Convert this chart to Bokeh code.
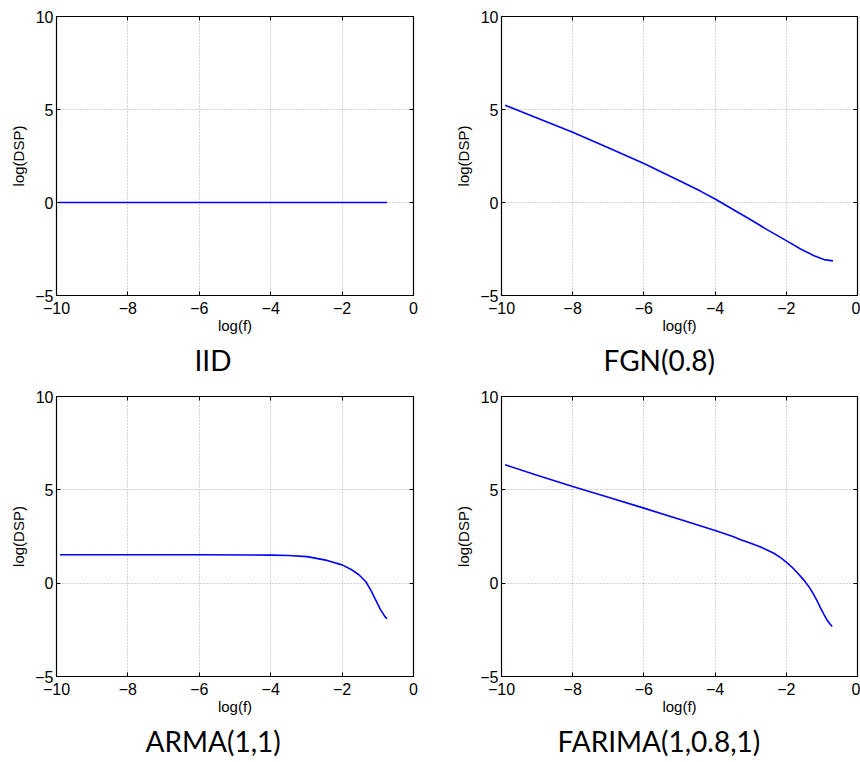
from bokeh.plotting import figure
from bokeh.layouts import column, row
from bokeh.models import Range1d, FixedTicker, CustomJSTickFormatter, LinearAxis, Title
from bokeh.embed import file_html
from bokeh.resources import INLINE

# ---- data ----
x_ticks = [-10, -8, -6, -4, -2, 0]
y_ticks = [-5, 0, 5, 10]

iid_x = [-9.93, -8, -6, -4, -2, -0.74]
iid_y = [0, 0, 0, 0, 0, 0]

fgn_x = [-9.9, -9, -8, -7, -6, -5, -4.4, -4, -3.47, -3, -2.53, -2, -1.6, -1.22, -0.94, -0.69]
fgn_y = [5.23, 4.54, 3.78, 2.94, 2.10, 1.17, 0.60, 0.19, -0.40, -0.93, -1.47, -2.05, -2.50, -2.86, -3.07, -3.14]

arma_x = [-9.9, -8, -6, -4.57, -4, -3.5, -2.98, -2.42, -2.0, -1.76, -1.53, -1.34, -1.2, -1.06, -0.92, -0.8, -0.74]
arma_y = [1.52, 1.52, 1.52, 1.51, 1.50, 1.48, 1.42, 1.22, 0.98, 0.75, 0.45, 0.09, -0.36, -0.90, -1.43, -1.79, -1.91]

farima_x = [-9.9, -9, -8, -7, -6, -5, -4, -3.5, -3.28, -3.0, -2.72, -2.35, -2.16, -2.0, -1.83, -1.69,
            -1.50, -1.36, -1.24, -1.13, -1.04, -0.94, -0.87, -0.80, -0.71]
farima_y = [6.34, 5.78, 5.18, 4.60, 4.02, 3.43, 2.82, 2.50, 2.33, 2.14, 1.94, 1.60, 1.37, 1.13, 0.84, 0.56,
            0.15, -0.20, -0.57, -0.96, -1.32, -1.68, -1.93, -2.12, -2.32]

titles = ["IID", "FGN(0.8)", "ARMA(1,1)", "FARIMA(1,0.8,1)"]
title_offsets = [138, 102, 89, 56]

TICK_FONT = "Liberation Sans"

fmt_code = "return tick < 0 ? '\u2212' + Math.abs(tick) : String(tick);"


def make_panel(xs, ys, title, t_off, width, height, left, right, top, bottom):
    p = figure(width=width, height=height, output_backend="svg", toolbar_location=None,
               x_range=Range1d(-10, 0), y_range=Range1d(-5, 10),
               min_border_left=left, min_border_right=right,
               min_border_top=top, min_border_bottom=bottom,
               background_fill_color="white", border_fill_color="white")
    p.outline_line_color = "black"
    p.outline_line_width = 1.2
    p.outline_line_alpha = 1.0

    for ax, ticks in ((p.xaxis[0], x_ticks), (p.yaxis[0], y_ticks)):
        ax.ticker = FixedTicker(ticks=ticks)
        ax.formatter = CustomJSTickFormatter(code=fmt_code)
        ax.major_tick_in = 4
        ax.major_tick_out = 0
        ax.minor_tick_line_color = None
        ax.axis_line_color = "black"
        ax.major_tick_line_color = "black"
        ax.major_label_text_font = TICK_FONT
        ax.major_label_text_font_size = "16px"
        ax.major_label_text_color = "black"
        ax.axis_label_text_font = TICK_FONT
        ax.axis_label_text_font_size = "15px"
        ax.axis_label_text_font_style = "normal"
        ax.axis_label_text_color = "black"

    p.xaxis[0].axis_label = "log(f)"
    p.xaxis[0].major_label_standoff = 6
    p.xaxis[0].axis_label_standoff = 0
    p.yaxis[0].axis_label = "log(DSP)"
    p.yaxis[0].major_label_standoff = 3
    p.yaxis[0].axis_label_standoff = 5

    # inward ticks on the top and right edges, no labels
    for loc, ticks in (("right", y_ticks), ("above", x_ticks)):
        a = LinearAxis(ticker=FixedTicker(ticks=ticks), major_tick_in=4, major_tick_out=0,
                       minor_tick_line_color=None, major_label_text_font_size="1px",
                       major_label_text_color=None,
                       major_label_standoff=0, axis_line_color="black",
                       major_tick_line_color="black")
        p.add_layout(a, loc)

    p.xgrid.ticker = FixedTicker(ticks=x_ticks)
    p.ygrid.ticker = FixedTicker(ticks=y_ticks)
    for g in (p.xgrid[0], p.ygrid[0]):
        g.grid_line_color = "#a8a8a8"
        g.grid_line_dash = "1 2"
        g.grid_line_width = 1

    p.line(xs, ys, line_color="#0000ff", line_width=1.6)

    t = Title(text=title, align="left", offset=t_off, standoff=9,
              text_font="Lato", text_font_size="28px", text_font_style="normal",
              text_color="black")
    p.add_layout(t, "below")
    return p


p1 = make_panel(iid_x, iid_y, titles[0], title_offsets[0], 430, 381, 56, 17, 16, 84)
p2 = make_panel(fgn_x, fgn_y, titles[1], title_offsets[1], 430, 381, 71, 3, 16, 84)
p3 = make_panel(arma_x, arma_y, titles[2], title_offsets[2], 430, 381, 56, 17, 15, 85)
p4 = make_panel(farima_x, farima_y, titles[3], title_offsets[3], 430, 381, 71, 3, 15, 85)

layout = column(row(p1, p2), row(p3, p4))

open("out.html", "w").write(file_html(layout, INLINE))
